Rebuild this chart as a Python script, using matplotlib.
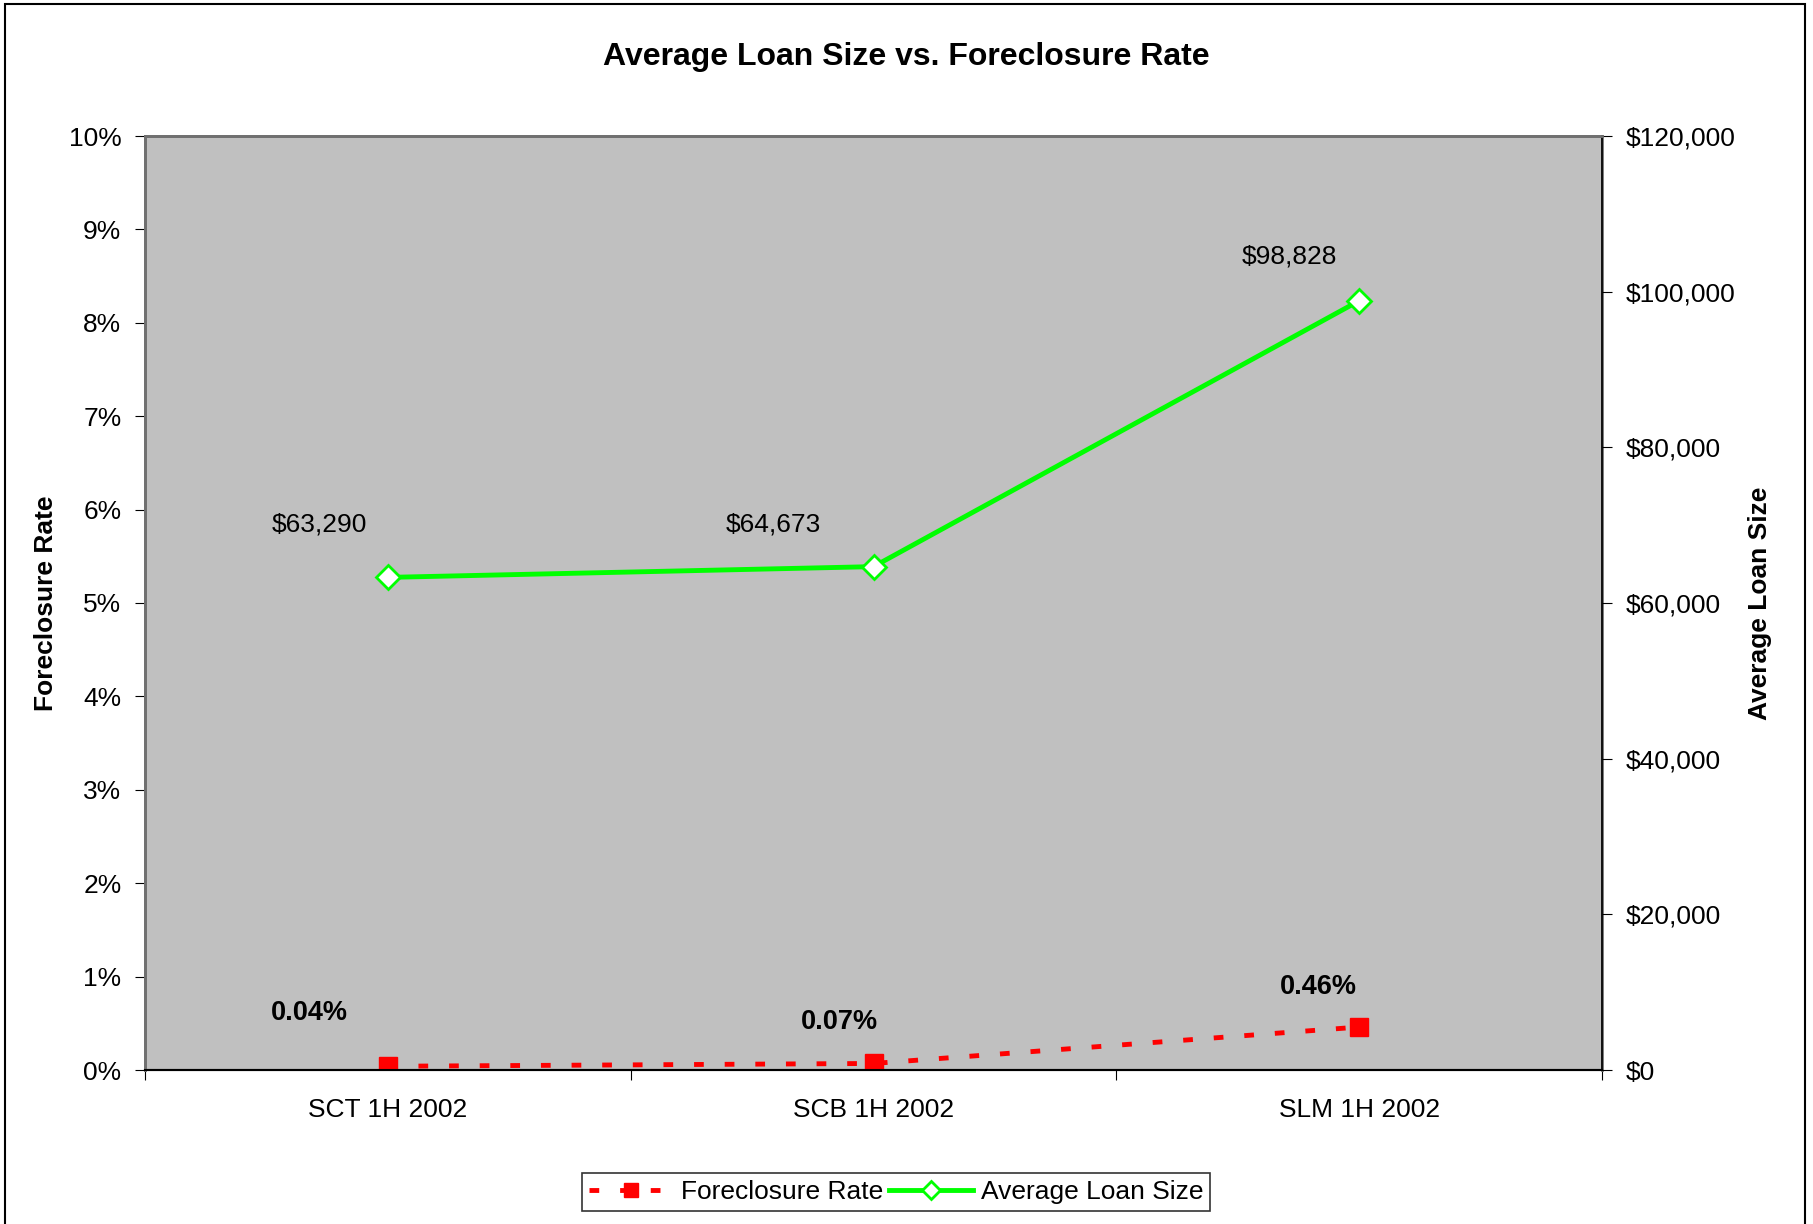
import matplotlib
matplotlib.use("Agg")
import matplotlib.pyplot as plt
from matplotlib.ticker import FuncFormatter, MultipleLocator
from matplotlib.patches import Rectangle

plt.rcParams["font.family"] = ["Liberation Sans", "DejaVu Sans"]

categories = ["SCT 1H 2002", "SCB 1H 2002", "SLM 1H 2002"]
foreclosure_rate = [0.0004, 0.0007, 0.0046]
avg_loan_size = [63290, 64673, 98828]

# label offsets in pixels (dx, dy) relative to each point
rate_offsets = [(-78, 53), (-34, 41), (-41, 40)]
loan_offsets = [(-68, 53), (-100, 42), (-70, 44)]

fig = plt.figure(figsize=(18.13, 12.24), dpi=100)
fig.patches.append(Rectangle((5 / 1813, -0.01), 1800 / 1813, 1 - 4 / 1224 + 0.01,
                             transform=fig.transFigure, fill=False,
                             edgecolor="black", linewidth=1.5))

ax = fig.add_axes([145 / 1813, 1 - 1070 / 1224, 1457 / 1813, 934 / 1224])
ax.set_facecolor("#C0C0C0")
ax2 = ax.twinx()

x = list(range(len(categories)))

ax.plot(x, foreclosure_rate, color="red", linewidth=3.5, linestyle=(0, (2, 4.3)),
        marker="s", markersize=13, markerfacecolor="red", markeredgecolor="red",
        label="Foreclosure Rate", zorder=3)
ax2.plot(x, avg_loan_size, color="#00FF00", linewidth=3.5,
         marker="D", markersize=12, markerfacecolor="white", markeredgecolor="#00FF00",
         markeredgewidth=2, label="Average Loan Size", zorder=3)

ax.set_xlim(-0.5, len(categories) - 0.5)
ax.set_ylim(0, 0.10)
ax2.set_ylim(0, 120000)

ax.yaxis.set_major_locator(MultipleLocator(0.01))
ax.yaxis.set_major_formatter(FuncFormatter(lambda v, p: f"{v * 100:.0f}%"))
ax2.yaxis.set_major_locator(MultipleLocator(20000))
ax2.yaxis.set_major_formatter(FuncFormatter(lambda v, p: f"${v:,.0f}"))

ax.set_xticks([i + 0.5 for i in range(-1, len(categories))])
ax.set_xticklabels([])
ax.set_xticks(x, minor=True)
ax.set_xticklabels(categories, minor=True)
ax.tick_params(axis="x", which="major", direction="out", length=7, color="black")
ax.tick_params(axis="x", which="minor", length=0, pad=20, labelsize=19)
ax.tick_params(axis="y", direction="out", length=7, labelsize=19, pad=10)
ax2.tick_params(axis="y", direction="out", length=7, labelsize=19, pad=10)

for a in (ax, ax2):
    for s in ("left", "top", "right"):
        a.spines[s].set_color("#707070")
        a.spines[s].set_linewidth(2)
    a.spines["bottom"].set_color("black")
    a.spines["bottom"].set_linewidth(1.5)
ax2.spines["right"].set_color("black")
ax2.spines["right"].set_linewidth(1.2)

ax.set_ylabel("Foreclosure Rate", fontsize=19, fontweight="bold", labelpad=8)
ax2.set_ylabel("Average Loan Size", fontsize=19, fontweight="bold", rotation=90, labelpad=9)

px = 72 / 100
for xi, v, (dx, dy) in zip(x, foreclosure_rate, rate_offsets):
    ax.annotate(f"{v * 100:.2f}%", (xi, v), xytext=(dx * px, dy * px),
                textcoords="offset points", ha="center", va="center",
                fontsize=19.5, fontweight="bold")
for xi, v, (dx, dy) in zip(x, avg_loan_size, loan_offsets):
    ax2.annotate(f"${v:,.0f}", (xi, v), xytext=(dx * px, dy * px),
                 textcoords="offset points", ha="center", va="center", fontsize=19)

fig.suptitle("Average Loan Size vs. Foreclosure Rate", y=1 - 57 / 1224, va="center",
             fontsize=23, fontweight="bold")

h1, l1 = ax.get_legend_handles_labels()
h2, l2 = ax2.get_legend_handles_labels()
leg = fig.legend(h1 + h2, l1 + l2, loc="center", bbox_to_anchor=(896 / 1813, 1 - 1192 / 1224),
                 ncol=2, fontsize=19, frameon=True, fancybox=False, edgecolor="black",
                 handlelength=3.2, columnspacing=0.2, handletextpad=0.3, borderpad=0.25,
                 markerscale=0.8)
leg.get_frame().set_linewidth(1.2)

fig.savefig("out.png", dpi=100)
